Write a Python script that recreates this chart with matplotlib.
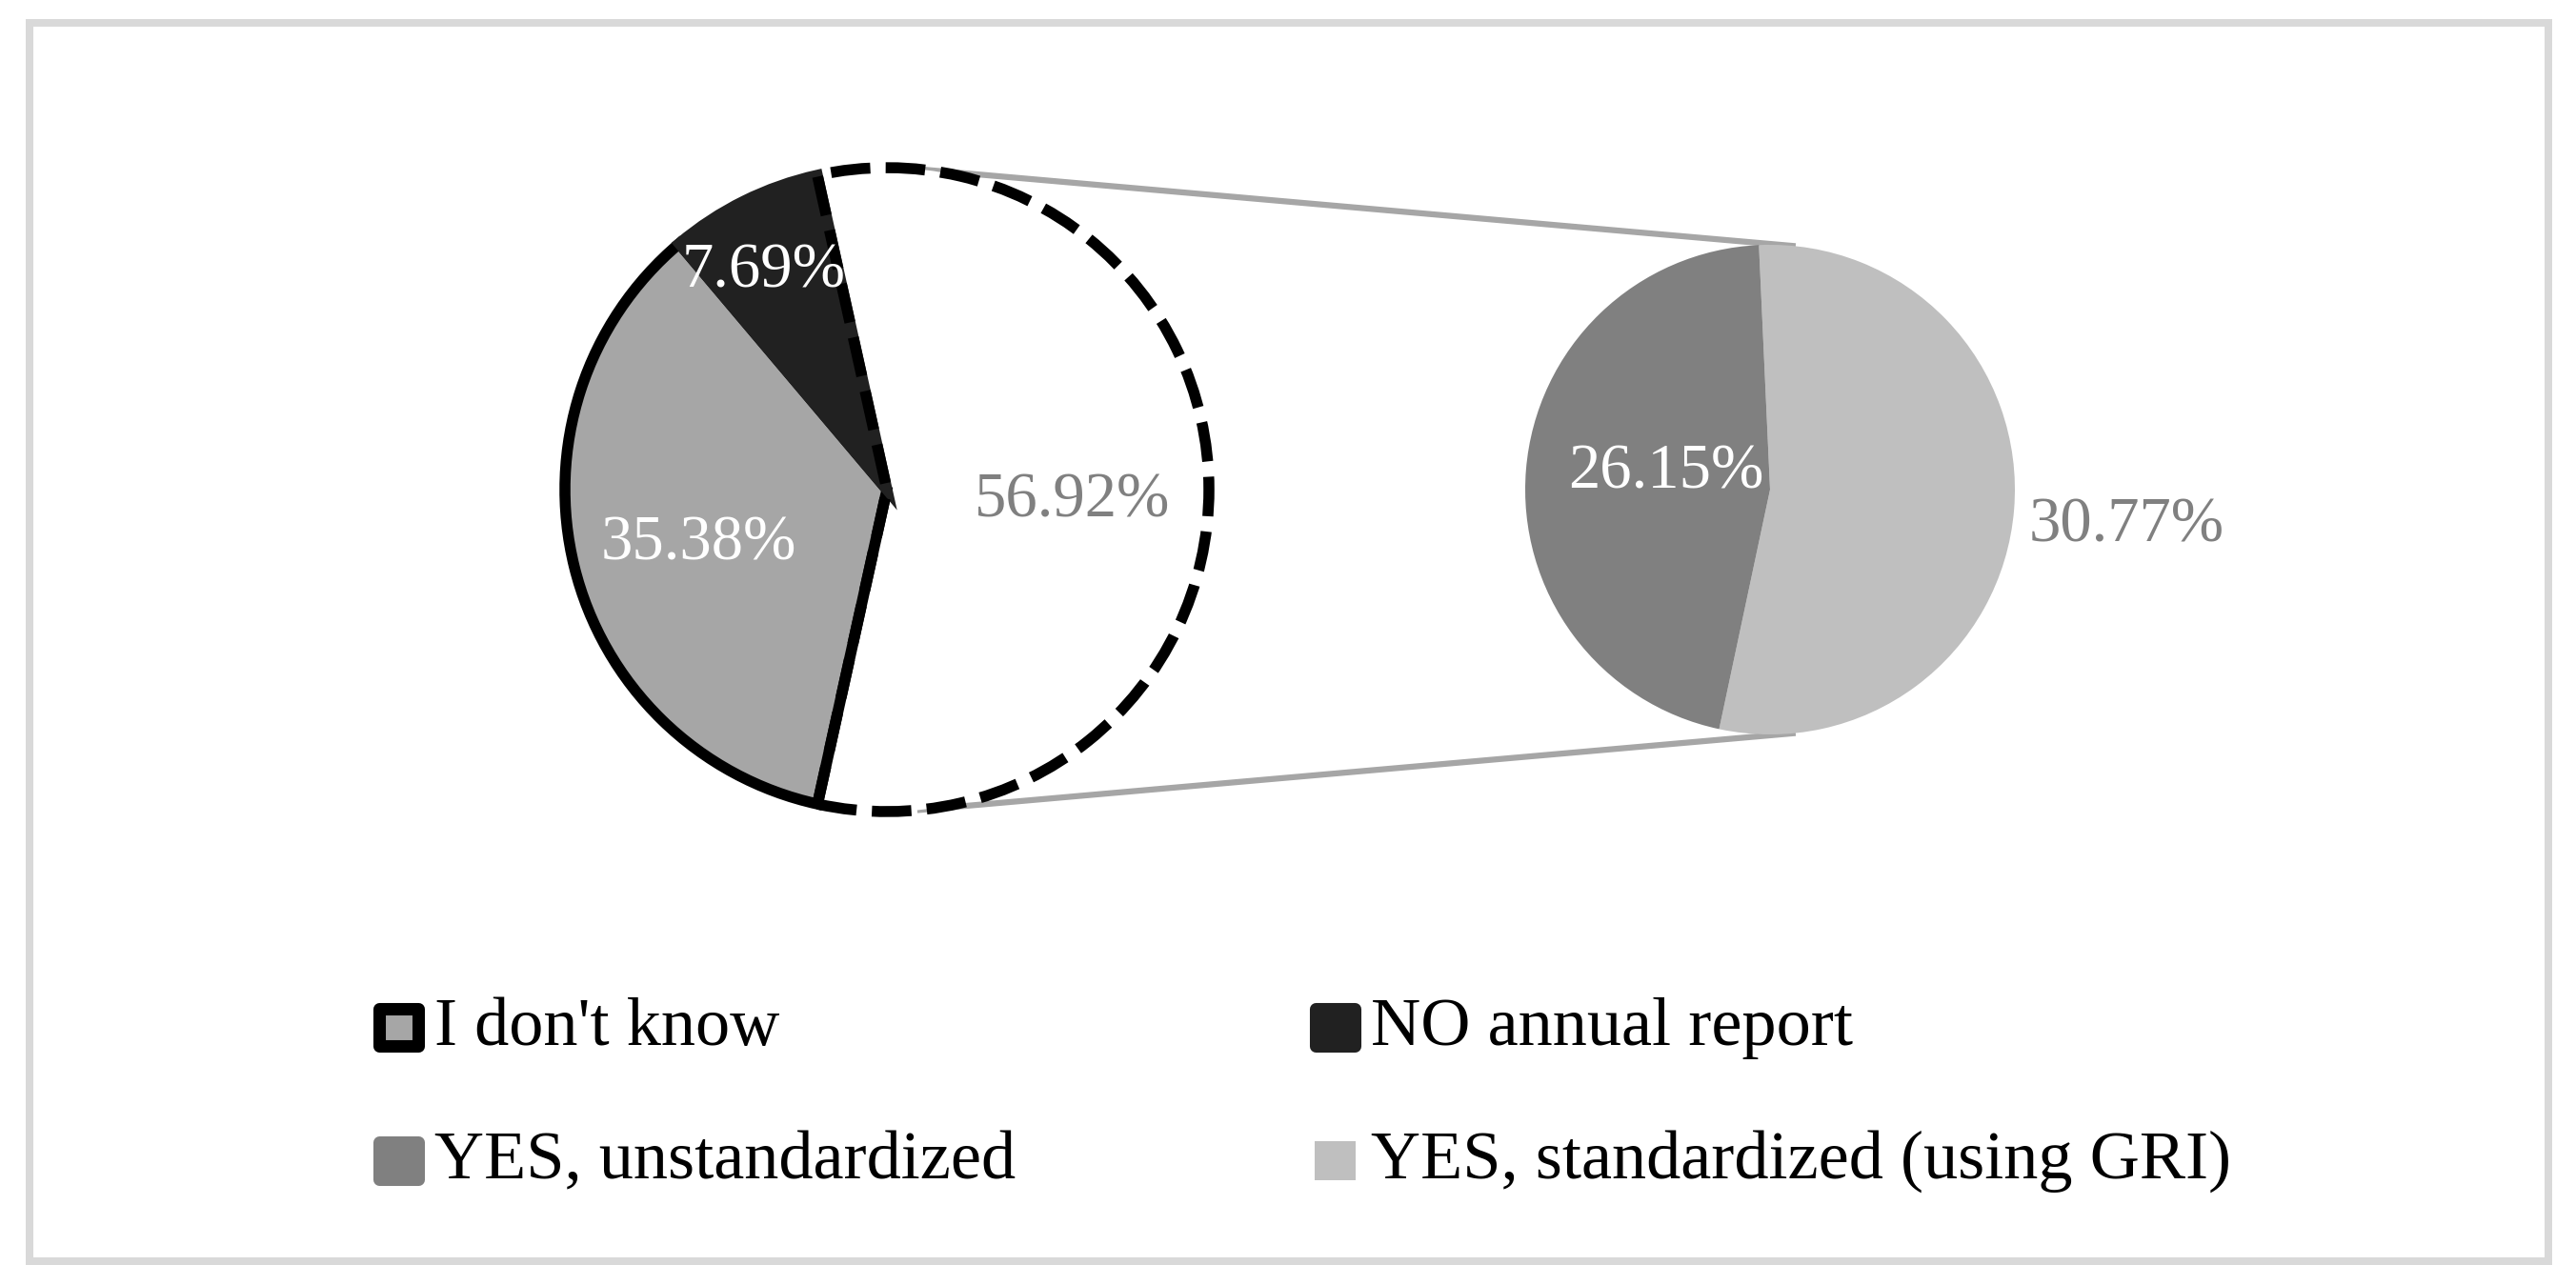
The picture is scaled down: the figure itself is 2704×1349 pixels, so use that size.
import numpy as np
import matplotlib
matplotlib.use('Agg')
import matplotlib.pyplot as plt
from matplotlib.patches import Wedge, Rectangle

plt.rcParams['font.family'] = ['Liberation Serif', 'DejaVu Serif']

# ---------------- data ----------------
main_labels = ["YES (annual report)", "NO annual report", "I don't know"]
main_values = [56.92, 7.69, 35.38]
main_colors = ["#ffffff", "#212121", "#a6a6a6"]

sub_labels = ["YES, standardized (using GRI)", "YES, unstandardized"]
sub_values = [30.77, 26.15]
sub_colors = ["#bfbfbf", "#808080"]

legend_labels = ["I don't know", "NO annual report",
                 "YES, unstandardized", "YES, standardized (using GRI)"]

# ---------------- layout ----------------
W, H = 2704, 1349
fig = plt.figure(figsize=(W / 100, H / 100), dpi=100)
ax = fig.add_axes([0, 0, 1, 1])

FS = 48
FS_LEG = 52
c_main = np.array([931.0, H - 514.0]); R_main = 338
c_sub = np.array([1858.0, H - 514.0]); R_sub = 257
LW = 8.3  # pt, outline width

# main pie
wm, _ = ax.pie(main_values, colors=main_colors, startangle=-102.45,
               counterclock=True, center=tuple(c_main), radius=R_main,
               wedgeprops=dict(linewidth=0))
w_yes, w_no, w_idk = wm
w_yes.set_zorder(1)
w_idk.set_edgecolor('black'); w_idk.set_linewidth(LW); w_idk.set_zorder(2)
w_idk.set_joinstyle('miter')
w_no.set_edgecolor(main_colors[1]); w_no.set_linewidth(LW); w_no.set_zorder(3)
dashed = Wedge(w_yes.center, w_yes.r, w_yes.theta1, w_yes.theta2,
               facecolor='none', edgecolor='black', linewidth=LW,
               linestyle=(0, (3.6, 1.4)), zorder=4)
ax.add_patch(dashed)

# secondary pie
ws, _ = ax.pie(sub_values, colors=sub_colors, startangle=-102,
               counterclock=True, center=tuple(c_sub), radius=R_sub,
               wedgeprops=dict(linewidth=0))
for w in ws:
    w.set_zorder(2)

# connector lines
for a_main, a_sub in [(84.6, 84.0), (-84.6, -84.0)]:
    p1 = c_main + R_main * np.array([np.cos(np.radians(a_main)), np.sin(np.radians(a_main))])
    p2 = c_sub + R_sub * np.array([np.cos(np.radians(a_sub)), np.sin(np.radians(a_sub))])
    ax.plot([p1[0], p2[0]], [p1[1], p2[1]], color='#a6a6a6', lw=4.5,
            zorder=0.5, solid_capstyle='butt')

# percentage labels (angle deg, radius fraction)
def put(center, R, ang, frac, val, color):
    p = center + R * frac * np.array([np.cos(np.radians(ang)), np.sin(np.radians(ang))])
    ax.text(p[0], p[1] - 12, f"{val:.2f}%", ha='center', va='center',
            fontsize=FS, color=color, zorder=10)

put(c_main, R_main, 118.3, 0.81, main_values[1], 'white')
put(c_main, R_main, 192.7, 0.60, main_values[2], 'white')
put(c_main, R_main, 0.0, 0.575, main_values[0], '#808080')
put(c_sub, R_sub, 164.5, 0.44, sub_values[1], 'white')
put(c_sub, R_sub, -4.0, 1.46, sub_values[0], '#808080')

# legend (manual, 2 x 2)
leg_fill = {"I don't know": main_colors[2], "NO annual report": main_colors[1],
            "YES, unstandardized": sub_colors[1],
            "YES, standardized (using GRI)": sub_colors[0]}
leg_edge = {"I don't know": 'black', "NO annual report": main_colors[1],
            "YES, unstandardized": sub_colors[1],
            "YES, standardized (using GRI)": None}
col_x = [418, 1401]
row_y = [H - 1078, H - 1218]
for i, lab in enumerate(legend_labels):
    cx = col_x[i % 2]; cy = row_y[i // 2]
    if leg_edge[lab] is None:
        ax.add_patch(Rectangle((cx - 21.5, cy - 20.5), 43, 41,
                               facecolor=leg_fill[lab], edgecolor='none', zorder=5))
    else:
        ax.add_patch(Rectangle((cx - 20.5, cy - 19.5), 41, 39,
                               facecolor=leg_fill[lab], edgecolor=leg_edge[lab],
                               linewidth=9.4, joinstyle='round', zorder=5))
    ax.text(cx + 38, cy - 19, lab, ha='left', va='baseline', fontsize=FS_LEG,
            color='black', zorder=6)

# outer frame
ax.add_patch(Rectangle((31, 25), 2644, 1300, facecolor='none',
                       edgecolor='#d9d9d9', linewidth=5.76, zorder=0))

ax.set_xlim(0, W)
ax.set_ylim(0, H)
ax.set_aspect('equal')
ax.axis('off')
fig.savefig('out.png', dpi=100)
